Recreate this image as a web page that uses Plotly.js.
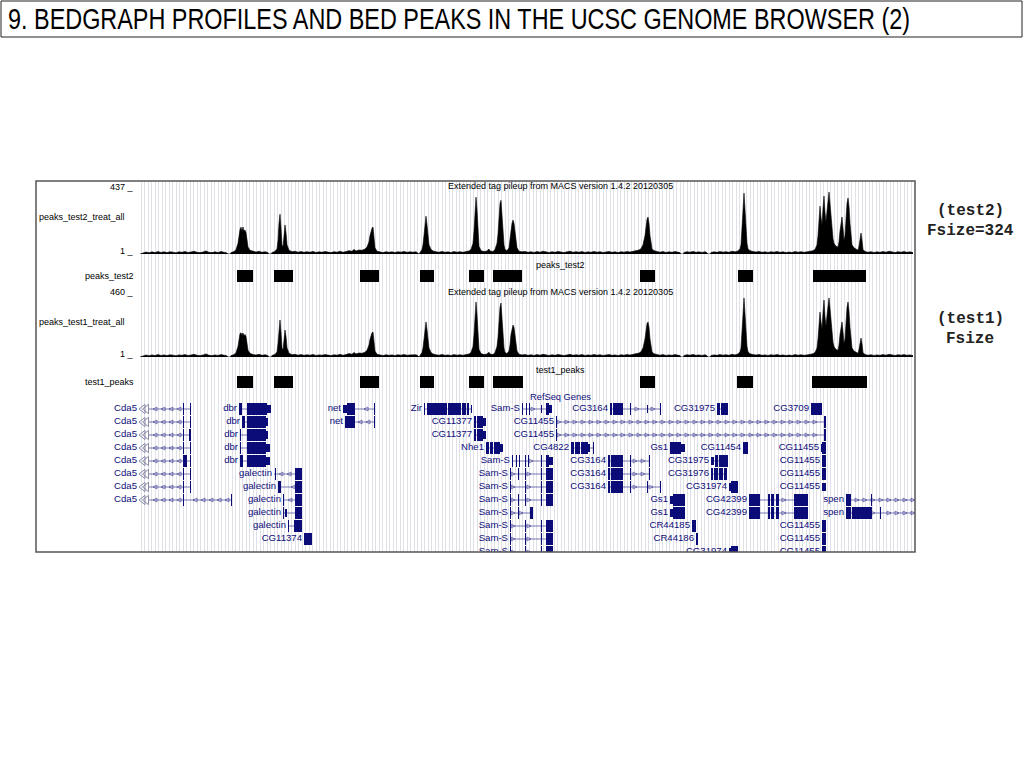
<!DOCTYPE html>
<html>
<head>
<meta charset="utf-8">
<script src="https://cdn.plot.ly/plotly-3.0.1.min.js"></script>
<style>html,body{margin:0;padding:0;background:#fff;}#chart{width:1024px;height:768px;}</style>
</head>
<body>
<div id="chart"></div>
<script>
// ---------------- DATA ----------------
const slideTitle = "9. BEDGRAPH PROFILES AND BED PEAKS IN THE UCSC GENOME BROWSER (2)";
const trackTitle = "Extended tag pileup from MACS version 1.4.2 20120305";
const test2Max = 437, test1Max = 460;

// [position, pileup] (test2 bedGraph)
const test2Profile = [[140,0],[143,6],[146,13],[149,8],[152,14],[155,9],[158,16],[161,10],[164,14],[167,9],[170,15],[173,12],[176,8],[179,14],[182,11],[185,16],[188,10],[191,13],[194,18],[197,11],[200,9],[203,13],[206,20],[209,11],[212,9],[215,14],[218,10],[221,16],[224,12],[227,7],[228,0],[230,0],[231,9],[234,16],[236,28],[238,70],[240,160],[241,175],[242,150],[243,176],[244,150],[245,156],[246,140],[247,90],[248,45],[250,24],[253,16],[256,13],[259,18],[262,11],[265,15],[268,9],[269,0],[271,0],[272,10],[275,17],[277,35],[278,90],[279,200],[280,260],[281,170],[282,60],[283,45],[284,110],[285,189],[286,140],[287,60],[289,25],[292,15],[295,18],[298,12],[301,16],[304,11],[307,15],[310,12],[313,17],[316,10],[319,14],[322,12],[325,16],[328,13],[331,9],[334,15],[337,12],[340,18],[343,11],[346,16],[349,22],[352,18],[354,30],[356,20],[359,26],[362,24],[365,32],[367,45],[369,80],[370,120],[371,150],[372,168],[373,176],[374,120],[375,40],[377,18],[380,13],[383,9],[386,15],[389,11],[392,14],[395,10],[398,15],[401,12],[404,17],[407,11],[410,14],[413,12],[416,15],[418,8],[419,0],[420,10],[422,30],[423,60],[424,120],[425,200],[426,247],[427,190],[428,110],[429,60],[431,30],[433,20],[436,15],[439,12],[442,17],[445,11],[448,14],[451,10],[454,16],[457,12],[460,15],[463,11],[466,16],[469,20],[471,30],[473,70],[474,150],[475,280],[476,371],[477,290],[478,130],[479,50],[481,22],[484,16],[487,20],[489,32],[490,20],[493,16],[495,30],[497,70],[498,130],[499,250],[500,330],[501,350],[502,230],[503,120],[504,60],[505,30],[507,22],[509,40],[510,80],[511,150],[512,200],[513,221],[514,200],[515,140],[516,80],[517,40],[519,18],[522,14],[525,17],[528,11],[531,15],[534,10],[537,16],[540,12],[543,18],[546,13],[549,10],[552,15],[555,11],[558,17],[561,12],[564,9],[567,14],[570,18],[573,11],[576,15],[579,12],[582,16],[585,10],[588,14],[591,11],[594,17],[597,12],[600,15],[603,10],[606,13],[609,16],[612,11],[615,14],[618,9],[621,15],[624,12],[627,16],[630,13],[633,17],[636,20],[639,26],[641,35],[643,60],[645,120],[646,180],[647,225],[648,241],[649,200],[650,120],[651,60],[652,35],[654,22],[657,15],[660,12],[663,16],[666,10],[669,14],[672,11],[675,16],[678,12],[680,9],[681,0],[683,0],[684,10],[687,15],[690,12],[693,17],[696,11],[699,14],[702,10],[705,15],[707,8],[708,0],[710,0],[711,10],[714,14],[717,11],[720,16],[723,12],[726,15],[729,11],[732,18],[735,14],[738,20],[740,35],[741,60],[742,150],[743,300],[744,397],[745,290],[746,150],[747,70],[748,35],[750,22],[753,16],[756,13],[759,17],[762,11],[765,14],[768,10],[771,15],[774,12],[777,16],[780,11],[783,14],[786,9],[789,13],[792,10],[795,16],[798,12],[801,15],[804,11],[807,14],[810,18],[813,22],[815,30],[817,60],[818,120],[819,220],[820,312],[821,240],[822,190],[823,300],[824,378],[825,270],[826,210],[827,280],[828,360],[829,404],[830,330],[831,240],[832,160],[833,100],[834,70],[836,50],[838,45],[839,80],[840,150],[841,210],[842,241],[843,170],[844,90],[845,120],[846,250],[847,330],[848,365],[849,310],[850,200],[851,100],[852,60],[854,40],[856,30],[858,25],[859,50],[860,100],[861,137],[862,90],[863,30],[865,16],[868,12],[871,15],[874,10],[877,14],[880,11],[883,16],[886,12],[889,18],[892,13],[895,10],[898,15],[901,12],[904,16],[907,11],[910,14],[913,9]];

// [position, pileup] (test1 bedGraph)
const test1Profile = [[140,0],[143,7],[146,14],[149,9],[152,15],[155,10],[158,17],[161,11],[164,15],[167,10],[170,16],[173,13],[176,9],[179,15],[182,12],[185,17],[188,11],[191,14],[194,19],[197,12],[200,10],[203,14],[206,22],[209,12],[212,10],[215,15],[218,11],[221,17],[224,13],[227,8],[228,0],[230,0],[231,10],[234,17],[236,30],[238,75],[240,165],[241,172],[242,155],[243,170],[244,150],[245,160],[246,145],[247,95],[248,48],[250,26],[253,17],[256,14],[259,19],[262,12],[265,16],[268,10],[269,0],[271,0],[272,11],[275,18],[277,38],[278,95],[279,205],[280,262],[281,175],[282,65],[283,48],[284,115],[285,191],[286,145],[287,65],[289,27],[292,16],[295,19],[298,13],[301,17],[304,12],[307,16],[310,13],[313,18],[316,11],[319,15],[322,13],[325,17],[328,14],[331,10],[334,16],[337,13],[340,19],[343,12],[346,17],[349,24],[352,19],[354,32],[356,22],[359,28],[362,26],[365,34],[367,48],[369,85],[370,125],[371,155],[372,172],[373,177],[374,125],[375,42],[377,19],[380,14],[383,10],[386,16],[389,12],[392,15],[395,11],[398,16],[401,13],[404,18],[407,12],[410,15],[413,13],[416,16],[418,9],[419,0],[420,11],[422,32],[423,64],[424,125],[425,205],[426,248],[427,195],[428,115],[429,64],[431,32],[433,21],[436,16],[439,13],[442,18],[445,12],[448,15],[451,11],[454,17],[457,13],[460,16],[463,12],[466,17],[469,21],[471,32],[473,75],[474,160],[475,295],[476,389],[477,300],[478,140],[479,54],[481,24],[484,17],[487,21],[489,34],[490,21],[493,17],[495,32],[497,75],[498,140],[499,265],[500,350],[501,382],[502,245],[503,128],[504,64],[505,32],[507,24],[509,43],[510,85],[511,160],[512,210],[513,226],[514,210],[515,148],[516,85],[517,43],[519,19],[522,15],[525,18],[528,12],[531,16],[534,11],[537,17],[540,13],[543,19],[546,14],[549,11],[552,16],[555,12],[558,18],[561,13],[564,10],[567,15],[570,19],[573,12],[576,16],[579,13],[582,17],[585,11],[588,15],[591,12],[594,18],[597,13],[600,16],[603,11],[606,14],[609,17],[612,12],[615,15],[618,10],[621,16],[624,13],[627,17],[630,14],[633,18],[636,21],[639,28],[641,37],[643,64],[645,128],[646,190],[647,235],[648,248],[649,210],[650,128],[651,64],[652,37],[654,23],[657,16],[660,13],[663,17],[666,11],[669,15],[672,12],[675,17],[678,13],[680,10],[681,0],[683,0],[684,11],[687,16],[690,13],[693,18],[696,12],[699,15],[702,11],[705,16],[707,9],[708,0],[710,0],[711,11],[714,15],[717,12],[720,17],[723,13],[726,16],[729,12],[732,19],[735,15],[738,21],[740,37],[741,64],[742,160],[743,320],[744,418],[745,305],[746,160],[747,75],[748,37],[750,23],[753,17],[756,14],[759,18],[762,12],[765,15],[768,11],[771,16],[774,13],[777,17],[780,12],[783,15],[786,10],[789,14],[792,11],[795,17],[798,13],[801,16],[804,12],[807,15],[810,19],[813,23],[815,32],[817,64],[818,128],[819,230],[820,318],[821,250],[822,200],[823,315],[824,403],[825,285],[826,220],[827,295],[828,380],[829,418],[830,345],[831,250],[832,170],[833,105],[834,74],[836,53],[838,48],[839,85],[840,160],[841,222],[842,248],[843,180],[844,95],[845,127],[846,265],[847,350],[848,389],[849,325],[850,210],[851,105],[852,64],[854,42],[856,32],[858,26],[859,53],[860,105],[861,134],[862,95],[863,32],[865,17],[868,13],[871,16],[874,11],[877,15],[880,12],[883,17],[886,13],[889,19],[892,14],[895,11],[898,16],[901,13],[904,17],[907,12],[910,15],[913,10]];

// BED peaks
const test2PeakStart = [237,274,360,420,469,493,640,738,813];
const test2PeakEnd   = [253,293,379,434,484,522,655,753,866];
const test1PeakStart = [237,274,360,420,469,493,640,737,812];
const test1PeakEnd   = [253,293,379,434,484,523,655,753,867];

// RefSeq genes: name, packed row, start, end, strand, exons [start,end,coding]
const geneName   = ["Cda5","dbr","net","Zir","Sam-S","CG3164","CG31975","CG3709",
                    "Cda5","dbr","net","CG11377","CG11455",
                    "Cda5","dbr","CG11377","CG11455",
                    "Cda5","dbr","Nhe1","CG4822","Gs1","CG11454","CG11455",
                    "Cda5","dbr","Sam-S","CG3164","CG31975","CG11455",
                    "Cda5","galectin","Sam-S","CG3164","CG31976","CG11455",
                    "Cda5","galectin","Sam-S","CG3164","CG31974","CG11455",
                    "Cda5","galectin","Sam-S","Gs1","CG42399","spen",
                    "galectin","Sam-S","Gs1","CG42399","spen",
                    "galectin","Sam-S","CR44185","CG11455",
                    "CG11374","Sam-S","CR44186","CG11455",
                    "Sam-S","CG31974","CG11455"];
const geneRow    = [0,0,0,0,0,0,0,0, 1,1,1,1,1, 2,2,2,2, 3,3,3,3,3,3,3, 4,4,4,4,4,4, 5,5,5,5,5,5, 6,6,6,6,6,6, 7,7,7,7,7,7, 8,8,8,8,8, 9,9,9,9, 10,10,10,10, 11,11,11];
const geneStart  = [100,239,343,424,522,610,717,811, 100,242,345,474,556, 100,240,474,556, 100,240,486,571,670,743,821, 100,240,512,608,711,822, 100,274,510,608,711,822, 100,278,510,608,729,822, 100,283,510,670,749,846, 283,510,670,749,846, 288,510,692,822, 304,510,696,822, 510,729,822];
const geneEnd    = [191,271,375,472,552,661,728,822, 191,268,375,486,826, 191,268,486,826, 191,270,503,594,685,748,826, 191,270,553,650,728,826, 191,302,553,650,727,826, 191,302,553,661,738,826, 232,302,553,685,808,930, 302,533,685,808,930, 302,553,696,826, 312,553,698,826, 553,738,826];
const geneStrand = ["-","-","-","+","+","+","+","+", "-","-","-","-","+", "-","-","-","+", "-","-","+","+","+","+","+", "-","-","+","+","+","+", "-","-","+","+","+","+", "-","-","+","+","+","+", "-","-","+","+","+","+", "-","+","+","+","+", "-","+","+","+", "-","+","+","+", "+","+","+"];
const geneExons = [
  [[183,184,1],[190,191,1]],
  [[239,242,1],[247,267,1],[267,271,0]],
  [[343,347,0],[347,355,1],[374,375,1]],
  [[424,425,1],[427,447,1],[448,461,1],[462,466,1],[467,469,1],[471,472,0]],
  [[522,523,1],[526,527,1],[529,530,1],[541,542,0],[546,549,1],[549,552,0]],
  [[610,612,1],[613,623,1],[630,631,1],[647,648,0],[660,661,1]],
  [[717,720,1],[721,728,1]],
  [[811,822,1]],
  [[183,184,1],[190,191,1]],
  [[242,245,1],[247,266,1],[266,268,0]],
  [[345,350,1],[350,355,1],[374,375,1]],
  [[474,476,1],[477,483,1],[483,486,0]],
  [[556,557,1],[824,826,1]],
  [[183,184,1],[189,191,1]],
  [[240,241,1],[247,266,1],[266,268,0]],
  [[474,476,1],[477,483,1],[483,486,0]],
  [[556,557,1],[824,826,1]],
  [[183,184,1],[190,191,1]],
  [[240,241,1],[247,266,1],[266,270,0]],
  [[486,489,1],[490,493,1],[494,500,1],[500,503,0]],
  [[571,574,1],[575,580,1],[581,588,1],[588,590,0],[593,594,1]],
  [[670,681,1],[681,685,0]],
  [[743,748,1]],
  [[821,822,0],[822,826,1]],
  [[183,187,1],[190,191,1]],
  [[240,243,1],[247,266,1],[266,270,0]],
  [[512,513,1],[516,517,1],[519,520,1],[525,526,1],[528,529,1],[541,542,1],[546,549,1],[549,553,0]],
  [[608,610,1],[611,623,1],[630,631,1],[649,650,1]],
  [[711,714,0],[715,718,1],[719,728,1]],
  [[822,826,1]],
  [[183,184,1],[190,191,1]],
  [[275,276,1],[295,302,1]],
  [[510,511,1],[518,519,1],[525,526,1],[541,542,1],[546,553,1]],
  [[608,610,1],[611,623,1],[630,631,1],[649,650,1]],
  [[711,713,1],[714,718,1],[719,723,1],[724,727,1]],
  [[822,826,1]],
  [[183,184,1],[190,191,1]],
  [[278,281,1],[295,302,1]],
  [[510,511,1],[525,526,1],[541,542,1],[546,553,1]],
  [[608,610,1],[611,623,1],[630,631,1],[647,648,1],[660,661,1]],
  [[729,731,0],[731,738,1]],
  [[822,826,0]],
  [[183,184,1],[231,232,1]],
  [[283,284,1],[295,302,1]],
  [[510,511,1],[518,519,1],[525,526,1],[541,542,1],[546,553,1]],
  [[670,673,0],[673,685,1]],
  [[749,760,1],[768,770,1],[771,774,1],[776,779,1],[794,808,1]],
  [[846,851,1],[871,872,1]],
  [[283,284,1],[285,287,0],[295,302,1]],
  [[510,511,1],[518,519,1],[530,533,1]],
  [[670,673,0],[673,685,1]],
  [[749,760,1],[768,770,1],[771,774,1],[776,779,1],[794,808,1]],
  [[846,851,1],[852,872,1],[880,881,1]],
  [[288,289,1],[294,302,1]],
  [[510,511,1],[525,526,1],[541,542,1],[546,553,1]],
  [[692,696,1]],
  [[822,826,1]],
  [[304,312,1]],
  [[510,511,1],[525,526,1],[541,542,1],[546,553,1]],
  [[696,698,1]],
  [[822,826,1]],
  [[510,511,1],[525,526,1],[541,542,1],[546,553,1]],
  [[729,731,0],[731,738,1]],
  [[822,826,1]]
];

// ---------------- DRAWING ----------------
const VIEW = [137, 915];
const NAVY = "#0c0c78";
const TXT = {family: "Liberation Sans, Arial, Helvetica, sans-serif", size: 9, color: "#000"};

const traces = [];
traces.push({x: VIEW, y: [0, 1], xaxis: "x", yaxis: "y", mode: "markers", marker: {opacity: 0}, hoverinfo: "skip"});

function profileTrace(p, yax) {
  return {x: p.map(d => d[0]), y: p.map(d => d[1]), xaxis: "x", yaxis: yax, mode: "lines",
    fill: "tozeroy", fillcolor: "#000", line: {color: "#000", width: 0.6}, hoverinfo: "skip"};
}
function peakTrace(s, e, yax) {
  return {type: "bar", orientation: "h", base: s, x: s.map((v, i) => e[i] - v), y: s.map(() => 0),
    width: 1, xaxis: "x", yaxis: yax, marker: {color: "#000", line: {width: 0}}, hoverinfo: "skip"};
}
traces.push(profileTrace(test2Profile, "y2"));
traces.push(peakTrace(test2PeakStart, test2PeakEnd, "y3"));
traces.push(profileTrace(test1Profile, "y4"));
traces.push(peakTrace(test1PeakStart, test1PeakEnd, "y5"));

// introns
const lx = [], ly = [];
geneName.forEach((g, i) => { lx.push(Math.max(geneStart[i], VIEW[0] + 12), geneEnd[i], null); ly.push(geneRow[i], geneRow[i], null); });
traces.push({x: lx, y: ly, xaxis: "x", yaxis: "y6", mode: "lines", line: {color: "rgba(12,12,120,0.55)", width: 1}, hoverinfo: "skip"});

// chevrons along introns
const cpx = [], cpy = [], cmx = [], cmy = [];
geneName.forEach((g, i) => {
  const ex = geneExons[i];
  for (let p = geneStart[i] + 5; p < geneEnd[i] - 2; p += 8) {
    if (p < VIEW[0] + 16) continue;
    if (ex.some(e => p >= e[0] - 2 && p <= e[1] + 2)) continue;
    if (geneStrand[i] === "+") { cpx.push(p); cpy.push(geneRow[i]); } else { cmx.push(p); cmy.push(geneRow[i]); }
  }
});
traces.push({x: cpx, y: cpy, xaxis: "x", yaxis: "y6", mode: "markers",
  marker: {symbol: "arrow-right-open", size: 4, color: "rgba(12,12,120,0.45)", line: {width: 1}}, hoverinfo: "skip"});
traces.push({x: cmx, y: cmy, xaxis: "x", yaxis: "y6", mode: "markers",
  marker: {symbol: "arrow-left-open", size: 4, color: "rgba(12,12,120,0.45)", line: {width: 1}}, hoverinfo: "skip"});

// exons
const eb = [], ex = [], ey = [], ew = [];
geneExons.forEach((list, i) => list.forEach(e => {
  eb.push(e[0]); ex.push(e[1] - e[0]); ey.push(geneRow[i]); ew.push(e[2] ? 0.85 : 0.55);
}));
traces.push({type: "bar", orientation: "h", base: eb, x: ex, y: ey, width: ew, xaxis: "x", yaxis: "y6",
  marker: {color: NAVY, line: {width: 0}}, hoverinfo: "skip"});

// off-screen marks (<<) for genes extending beyond the left edge
const ox = [], oy = [];
geneName.forEach((g, i) => { if (geneStart[i] < VIEW[0]) { ox.push(VIEW[0] + 6, VIEW[0] + 9.5); oy.push(geneRow[i], geneRow[i]); } });
traces.push({x: ox, y: oy, xaxis: "x", yaxis: "y6", mode: "markers", cliponaxis: false,
  marker: {symbol: "triangle-left-open", size: 8, color: "#8a8aa8", line: {width: 1}}, hoverinfo: "skip"});

// gene labels
const inX = [], inY = [], inT = [], outX = [], outY = [], outT = [];
geneName.forEach((g, i) => {
  if (geneStart[i] < VIEW[0]) { outX.push(VIEW[0] + 0.01); outY.push(geneRow[i]); outT.push(g); }
  else { inX.push(geneStart[i] - 2); inY.push(geneRow[i]); inT.push(g); }
});
const gfont = {family: TXT.family, size: 9.6, color: NAVY};
traces.push({x: inX, y: inY, text: inT, mode: "text", textposition: "middle left", textfont: gfont,
  xaxis: "x", yaxis: "y6", cliponaxis: true, hoverinfo: "skip"});
traces.push({x: outX, y: outY, text: outT, mode: "text", textposition: "middle left", textfont: gfont,
  xaxis: "x", yaxis: "y6", cliponaxis: false, hoverinfo: "skip"});

// ---------------- LAYOUT ----------------
const px2paperX = p => (p - 137) / 778;
const px2paperY = p => (552 - p) / 371;
const hidden = {showgrid: false, zeroline: false, showticklabels: false, ticks: "", showline: false, fixedrange: true};

const ann = [];
function A(o) { ann.push(Object.assign({showarrow: false, font: TXT}, o)); }
const lx0 = px2paperX(136);
A({text: test2Max + " _", xref: "paper", x: lx0, xanchor: "right", yref: "y2", y: test2Max, yanchor: "middle"});
A({text: "1 _", xref: "paper", x: lx0, xanchor: "right", yref: "y2", y: 22, yanchor: "middle"});
A({text: "peaks_test2_treat_all", xref: "paper", x: px2paperX(37), xanchor: "left", yref: "y2", y: 241, yanchor: "middle"});
A({text: "peaks_test2", xref: "paper", x: lx0, xanchor: "right", yref: "y3", y: 0, yanchor: "middle"});
A({text: test1Max + " _", xref: "paper", x: lx0, xanchor: "right", yref: "y4", y: test1Max, yanchor: "middle"});
A({text: "1 _", xref: "paper", x: lx0, xanchor: "right", yref: "y4", y: 22, yanchor: "middle"});
A({text: "peaks_test1_treat_all", xref: "paper", x: px2paperX(37), xanchor: "left", yref: "y4", y: 248, yanchor: "middle"});
A({text: "test1_peaks", xref: "paper", x: lx0, xanchor: "right", yref: "y5", y: 0, yanchor: "middle"});
A({text: trackTitle, xref: "x", x: 560, xanchor: "center", yref: "y2", y: test2Max, yanchor: "middle", yshift: 1});
A({text: "peaks_test2", xref: "x", x: 560, xanchor: "center", yref: "y3", y: 0.92, yanchor: "middle"});
A({text: trackTitle, xref: "x", x: 560, xanchor: "center", yref: "y4", y: test1Max, yanchor: "middle"});
A({text: "test1_peaks", xref: "x", x: 560, xanchor: "center", yref: "y5", y: 1.0, yanchor: "middle"});
A({text: "RefSeq Genes", xref: "x", x: 560, xanchor: "center", yref: "y6", y: -0.95, yanchor: "middle", font: {family: TXT.family, size: 9.3, color: NAVY}});
// slide title
A({text: slideTitle, xref: "paper", yref: "paper", x: px2paperX(6), y: px2paperY(19), xanchor: "left", yanchor: "middle",
   font: {family: "Liberation Sans, Arial, sans-serif", size: 30, color: "#000"}});
// side notes
const mono = {family: "Liberation Mono, Courier New, monospace", size: 16, color: "#222"};
A({text: "<b>(test2)</b>", xref: "paper", yref: "paper", x: px2paperX(970), y: px2paperY(211), xanchor: "center", yanchor: "middle", font: mono});
A({text: "<b>Fsize=324</b>", xref: "paper", yref: "paper", x: px2paperX(970), y: px2paperY(231), xanchor: "center", yanchor: "middle", font: mono});
A({text: "<b>(test1)</b>", xref: "paper", yref: "paper", x: px2paperX(970), y: px2paperY(319), xanchor: "center", yanchor: "middle", font: mono});
A({text: "<b>Fsize</b>", xref: "paper", yref: "paper", x: px2paperX(970), y: px2paperY(339), xanchor: "center", yanchor: "middle", font: mono});

const layout = {
  width: 1024, height: 768,
  margin: {l: 137, r: 109, t: 181, b: 216, pad: 0},
  paper_bgcolor: "#fff", plot_bgcolor: "rgba(0,0,0,0)",
  showlegend: false, barmode: "overlay", bargap: 0,
  xaxis: {range: VIEW, showgrid: true, gridcolor: "#e0e0e8", gridwidth: 1, tick0: 137.5, dtick: 3.5,
          zeroline: false, showticklabels: false, ticks: "", showline: false, fixedrange: true},
  yaxis:  Object.assign({domain: [0, 1], range: [0, 1]}, hidden),
  yaxis2: Object.assign({domain: [px2paperY(254), px2paperY(187)], range: [0, test2Max], anchor: "x"}, hidden),
  yaxis3: Object.assign({domain: [px2paperY(288), px2paperY(264)], range: [-1, 1], anchor: "x"}, hidden),
  yaxis4: Object.assign({domain: [px2paperY(357), px2paperY(292)], range: [0, test1Max], anchor: "x"}, hidden),
  yaxis5: Object.assign({domain: [px2paperY(394), px2paperY(370)], range: [-1, 1], anchor: "x"}, hidden),
  yaxis6: Object.assign({domain: [0, px2paperY(391)], range: [11, -1.385], anchor: "x"}, hidden),
  annotations: ann,
  shapes: [
    {type: "rect", xref: "paper", yref: "paper", x0: px2paperX(36), x1: px2paperX(915), y0: px2paperY(552), y1: px2paperY(181),
     line: {color: "#555", width: 1.5}, fillcolor: "rgba(0,0,0,0)"},
    {type: "rect", xref: "paper", yref: "paper", x0: px2paperX(1), x1: px2paperX(1022), y0: px2paperY(37), y1: px2paperY(1),
     line: {color: "#222", width: 1}, fillcolor: "rgba(0,0,0,0)"}
  ]
};

Plotly.newPlot("chart", traces, layout, {staticPlot: true, displayModeBar: false}).then(gd => {
  // the slide title uses a condensed face in the reference: squeeze the real text, keeping its left edge
  gd.querySelectorAll(".annotation-text").forEach(t => {
    if (t.textContent === slideTitle) {
      const b = t.getBBox();
      t.setAttribute("text-anchor", "start");
      t.setAttribute("x", b.x);
      t.setAttribute("textLength", "902");
      t.setAttribute("lengthAdjust", "spacingAndGlyphs");
      const bg = t.parentNode.querySelector("rect.bg");
      if (bg) bg.setAttribute("width", "906");
    }
  });
});
</script>
</body>
</html>
